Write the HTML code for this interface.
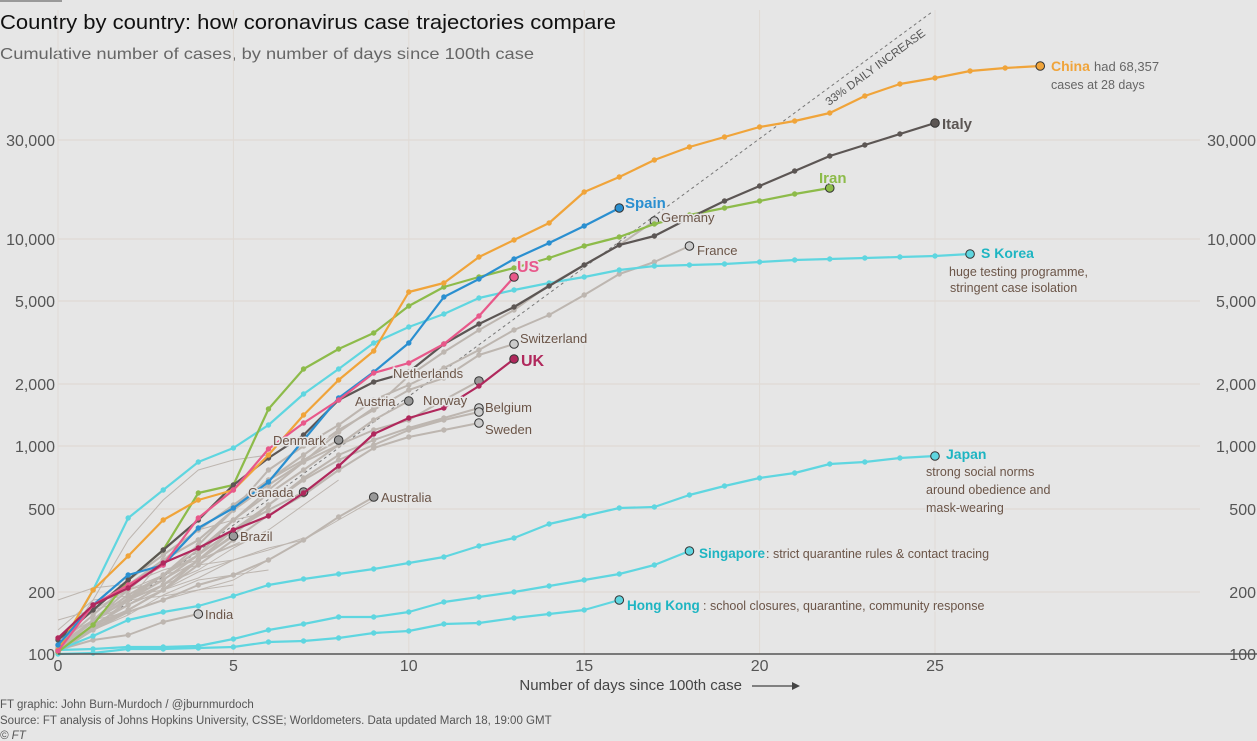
<!DOCTYPE html>
<html><head><meta charset="utf-8"><style>
body{margin:0;background:#e6e6e6;width:1257px;height:741px;overflow:hidden;font-family:"Liberation Sans",sans-serif}
svg{position:absolute;left:0;top:0}
</style></head><body>
<svg id="s" width="1257" height="741" xmlns="http://www.w3.org/2000/svg" font-family="Liberation Sans, sans-serif">
<rect x="0" y="0" width="62" height="2" fill="#999"/>
<text x="0" y="29" font-size="20" fill="#111" textLength="616" lengthAdjust="spacingAndGlyphs">Country by country: how coronavirus case trajectories compare</text>
<text x="0" y="59" font-size="16" fill="#666" textLength="534" lengthAdjust="spacingAndGlyphs">Cumulative number of cases, by number of days since 100th case</text>
<g id="grid"></g>
<line x1="58" y1="654" x2="932" y2="12" stroke="#777" stroke-width="1" stroke-dasharray="3,3"/>
<text transform="translate(829,106) rotate(-36.3)" font-size="11.5" fill="#555" stroke="#e6e6e6" stroke-width="3" paint-order="stroke">33% DAILY INCREASE</text>
<g id="lines"></g>
<g id="labels" font-size="13" stroke="#e6e6e6" stroke-width="3" paint-order="stroke"></g>
<line x1="58" y1="654" x2="1257" y2="654" stroke="#555" stroke-width="1.5"/>
<text x="742" y="690" font-size="15" fill="#444" text-anchor="end">Number of days since 100th case</text>
<line x1="752" y1="686" x2="792" y2="686" stroke="#444" stroke-width="1.2"/><path d="M792,682 L800,686 L792,690Z" fill="#444"/>
<text x="0" y="708" font-size="11.5" fill="#555">FT graphic: John Burn-Murdoch / @jburnmurdoch</text>
<text x="0" y="724" font-size="11.5" fill="#555">Source: FT analysis of Johns Hopkins University, CSSE; Worldometers. Data updated March 18, 19:00 GMT</text>
<text x="0" y="739" font-size="11.5" fill="#555" font-style="italic">© FT</text>
</svg>
<script>
const NS="http://www.w3.org/2000/svg";
function X(d){return 58+35.08*d}
function el(p,t,a,txt){const e=document.createElementNS(NS,t);for(const k in a)e.setAttribute(k,a[k]);if(txt!=null)e.textContent=txt;p.appendChild(e);return e}
const g=document.getElementById('grid');
[[100,654],[200,592],[500,509],[1000,446],[2000,384],[5000,301],[10000,239],[30000,140]].forEach(([v,y])=>{
 if(v>100)el(g,'line',{x1:58,y1:y,x2:1200,y2:y,stroke:'#ddd6d0','stroke-width':1});
 const s=v.toLocaleString('en-US');
 el(g,'text',{x:55,y:y+6,'font-size':16,fill:'#555','text-anchor':'end'},s);
 el(g,'text',{x:1256,y:y+6,'font-size':16,fill:'#555','text-anchor':'end'},s);
});
[0,5,10,15,20,25].forEach(d=>{el(g,'line',{x1:X(d),y1:10,x2:X(d),y2:654,stroke:'#e0dad5','stroke-width':1});el(g,'text',{x:X(d),y:671,'font-size':16,fill:'#555','text-anchor':'middle'},d)});
const L=document.getElementById('lines');
function line(ys,c,w,dots,end,start){start=start||0;const pts=ys.map((y,i)=>X(i+start).toFixed(1)+','+y).join(' ');
 el(L,'polyline',{points:pts,fill:'none',stroke:c,'stroke-width':w,'stroke-linejoin':'round'});
 if(dots)ys.forEach((y,i)=>el(L,'circle',{cx:X(i+start),cy:y,r:2.7,fill:c}));
 if(end)el(L,'circle',{cx:X(ys.length-1+start),cy:ys[ys.length-1],r:4.3,fill:end,stroke:'#333','stroke-width':1});}
const grey='#bdb6b0';
[[640,620,612,600,590,585],[630,600,596,590,578,560,550,538],[620,610,600,596,590,580,560,540,520,500],[644,610,590,580,560,546,534],[648,630,615,595,580,575,570],[640,605,590,575,565,560],[650,620,600,560,530,520,512],[646,620,605,585,570,548,530,505,480],[600,588,584,570,560,545,530],[650,600,540,500,470,460,455],[650,625,605,590,572,560,548,540]].forEach(a=>line(a,grey,1,false));
const G=[
[[650,628,600,580,555,520,490,462,432,408,376,352,330,310,285,265,245,221],'#ccc'],
[[645,615,585,560,540,510,470,446,425,400,385,368,350,330,315,295,274,262,246],'#ccc'],
[[640,610,580,555,530,505,480,455,430,410,390,378,355,344],'#ccc'],
[[650,620,590,560,540,510,485,462,445,430,420,400,381],'#999'],
[[648,622,598,575,550,520,494,470,445,420,401],'#999'],
[[650,625,605,585,560,535,505,478,455,440,428,418,408],'#ccc'],
[[648,620,595,575,555,530,505,480,460,445,430,420,412],'#ccc'],
[[650,628,610,590,565,540,515,495,470,448,437,430,423],'#ccc'],
[[646,620,600,575,545,510,480,460,440],'#999'],
[[652,625,610,590,560,530,510,492],'#999'],
[[652,630,612,600,585,575,560,540,517,497],'#999'],
[[652,620,600,585,560,536],'#999'],
[[650,640,635,622,614],'#ccc']];
G.forEach(([a,e])=>line(a,grey,2,true,e));
const CY='#5fd6e0';
line([654,653,649,649,648,647,642,641,638,633,631,624,623,618,614,610,600],CY,2.2,true,'#5fd6e0');
line([650,649,647,647,646,639,630,624,617,617,612,602,597,592,586,580,574,565,551],CY,2.2,true,'#5fd6e0');
line([650,636,620,612,606,596,585,579,574,569,563,557,546,538,524,516,508,507,495,486,478,473,464,462,458,456],CY,2.2,true,'#5fd6e0');
line([652,590,518,490,462,448,425,394,369,343,327,314,298,290,283,277,270,266,265,264,262,260,259,258,257,256,254],CY,2.2,true,'#5fd6e0');
line([652,625,580,550,493,485,409,369,349,333,306,287,277,268,258,246,237,224,215,208,201,194,188],'#8dbb4a',2.2,true,'#8dbb4a');
line([640,610,580,550,520,485,458,435,400,382,372,344,324,307,286,265,245,236,218,201,186,171,156,145,134,123],'#5c5654',2.2,true,'#5c5654');
line([650,590,556,520,500,490,455,415,380,351,292,283,257,240,223,192,177,160,147,137,127,121,113,96,84,78,71,68,66],'#f0a43a',2.2,true,'#f0a43a');
line([645,605,575,565,528,508,482,440,398,372,343,297,279,259,243,226,208],'#2a8fd0',2.2,true,'#2a8fd0');
line([651,605,585,565,518,490,449,423,400,373,363,344,316,277],'#e8588a',2.2,true,'#e8588a');
line([638,605,588,563,548,530,516,493,466,434,418,408,386,359],'#b0285c',2.2,true,'#b0285c');
const B=document.getElementById('labels');
function t(x,y,s,c,o){const a=Object.assign({x:x,y:y,fill:c},o||{});el(B,'text',a,s)}
const br='#6b5548';
t(1051,71,'China','#f0a43a',{'font-weight':'bold','font-size':14});t(1094,71,'had 68,357','#666');t(1051,89,'cases at 28 days','#666',{'font-size':12.5});
t(942,129,'Italy','#5c5654',{'font-weight':'bold','font-size':15});
t(819,183,'Iran','#8dbb4a',{'font-weight':'bold','font-size':15});
t(981,258,'S Korea','#1eb5c2',{'font-weight':'bold','font-size':14});
t(949,276,'huge testing programme,',br,{'font-size':12.5});t(950,292,'stringent case isolation',br,{'font-size':12.5});
t(625,208,'Spain','#2a8fd0',{'font-weight':'bold','font-size':15});
t(517,272,'US','#e8588a',{'font-weight':'bold','font-size':16});
t(521,366,'UK','#b0285c',{'font-weight':'bold','font-size':16});
t(661,222,'Germany',br);t(697,255,'France',br);t(520,343,'Switzerland',br);t(393,378,'Netherlands',br);
t(355,406,'Austria',br);t(423,405,'Norway',br);t(485,412,'Belgium',br);t(485,434,'Sweden',br);
t(273,445,'Denmark',br);t(248,497,'Canada',br);t(381,502,'Australia',br);t(240,541,'Brazil',br);t(205,619,'India',br);
t(946,459,'Japan','#1eb5c2',{'font-weight':'bold','font-size':14});
t(926,476,'strong social norms',br,{'font-size':12.5});t(926,494,'around obedience and',br,{'font-size':12.5});t(926,512,'mask-wearing',br,{'font-size':12.5});
t(699,558,'Singapore','#1eb5c2',{'font-weight':'bold','font-size':13.5});t(766,558,': strict quarantine rules & contact tracing',br,{'font-size':12.5});
t(627,610,'Hong Kong','#1eb5c2',{'font-weight':'bold','font-size':13.5});t(703,610,': school closures, quarantine, community response',br,{'font-size':12.5});
</script>
</body></html>
